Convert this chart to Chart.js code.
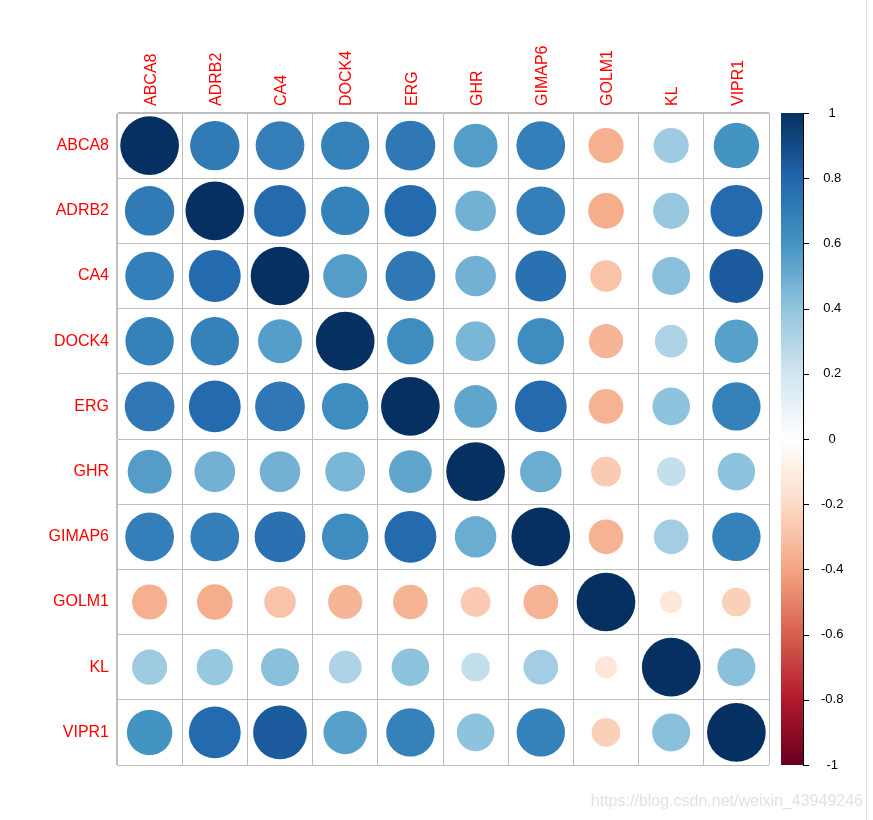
<!DOCTYPE html>
<html>
<head>
<meta charset="utf-8">
<script src="https://cdn.jsdelivr.net/npm/chart.js@4.4.0/dist/chart.umd.min.js"></script>
<style>
html,body{margin:0;padding:0;background:#fff;}
#wrap{position:relative;width:873px;height:820px;}
#borde{position:absolute;left:866px;top:0;width:1px;height:820px;background:#e4e4e4;}
</style>
</head>
<body>
<div id="wrap"><canvas id="grafCorr" width="873" height="820"></canvas><div id="borde"></div></div>
<script>
// genes (filas y columnas)
const genes = ["ABCA8","ADRB2","CA4","DOCK4","ERG","GHR","GIMAP6","GOLM1","KL","VIPR1"];

// correlaciones, una fila por gen
const corABCA8  = [ 1.00, 0.71, 0.69, 0.68, 0.72, 0.56, 0.69,-0.36, 0.36, 0.60];
const corADRB2  = [ 0.71, 1.00, 0.78, 0.68, 0.78, 0.48, 0.69,-0.37, 0.38, 0.78];
const corCA4    = [ 0.69, 0.78, 1.00, 0.56, 0.72, 0.48, 0.75,-0.29, 0.42, 0.84];
const corDOCK4  = [ 0.68, 0.68, 0.56, 1.00, 0.63, 0.46, 0.63,-0.34, 0.31, 0.55];
const corERG    = [ 0.72, 0.78, 0.72, 0.63, 1.00, 0.53, 0.78,-0.35, 0.41, 0.68];
const corGHR    = [ 0.56, 0.48, 0.48, 0.46, 0.53, 1.00, 0.50,-0.26, 0.24, 0.41];
const corGIMAP6 = [ 0.69, 0.69, 0.75, 0.63, 0.78, 0.50, 1.00,-0.35, 0.35, 0.68];
const corGOLM1  = [-0.36,-0.37,-0.29,-0.34,-0.35,-0.26,-0.35, 1.00,-0.14,-0.24];
const corKL     = [ 0.36, 0.38, 0.42, 0.31, 0.41, 0.24, 0.35,-0.14, 1.00, 0.42];
const corVIPR1  = [ 0.60, 0.78, 0.84, 0.55, 0.68, 0.41, 0.68,-0.24, 0.42, 1.00];

// paleta RdBu (de -1 a 1) y marcas de la barra de color
const paleta = ["#67001F","#B2182B","#D6604D","#F4A582","#FDDBC7","#FFFFFF","#D1E5F0","#92C5DE","#4393C3","#2166AC","#053061"];
const marcasBarra = [-1,-0.8,-0.6,-0.4,-0.2,0,0.2,0.4,0.6,0.8,1];

const matriz = [corABCA8,corADRB2,corCA4,corDOCK4,corERG,corGHR,corGIMAP6,corGOLM1,corKL,corVIPR1];
const fuente = '"Liberation Sans", Arial, sans-serif';

function hexRgb(h){
  return [parseInt(h.substr(1,2),16),parseInt(h.substr(3,2),16),parseInt(h.substr(5,2),16)];
}
function colorDe(v){
  let t = (v+1)/2*(paleta.length-1);
  let k = Math.min(Math.floor(t), paleta.length-2);
  let f = t-k;
  let a = hexRgb(paleta[k]), b = hexRgb(paleta[k+1]);
  let c = a.map((x,i)=>Math.round(x+(b[i]-x)*f));
  return 'rgb('+c[0]+','+c[1]+','+c[2]+')';
}

let puntos = [];
matriz.forEach(function(fila,i){
  fila.forEach(function(valor,j){
    puntos.push({x:genes[j], y:genes[i], v:valor});
  });
});

const pluginBarra = {
  id:'barraColor',
  afterDraw(chart){
    const ctx = chart.ctx;
    const esc = chart.scales.y2;
    const yTop = esc.getPixelForValue(1), yBot = esc.getPixelForValue(-1);
    const x0 = esc.left+12, x1 = esc.left+34;
    const grad = ctx.createLinearGradient(0,yBot,0,yTop);
    paleta.forEach((c,k)=>grad.addColorStop(k/(paleta.length-1),c));
    ctx.save();
    ctx.fillStyle = grad;
    ctx.fillRect(x0,yTop,x1-x0,yBot-yTop);
    ctx.strokeStyle = '#000';
    ctx.lineWidth = 1;
    ctx.beginPath();
    ctx.moveTo(x1+0.5,yTop); ctx.lineTo(x1+0.5,yBot);
    marcasBarra.forEach(function(v){
      let y = Math.round(esc.getPixelForValue(v))+0.5;
      ctx.moveTo(x1,y); ctx.lineTo(x1+6,y);
    });
    ctx.stroke();
    // marca de agua
    ctx.font = '16px '+fuente;
    ctx.fillStyle = '#e2e2e2';
    ctx.textAlign = 'right';
    ctx.textBaseline = 'alphabetic';
    ctx.fillText('https://blog.csdn.net/weixin_43949246', 863, 806);
    ctx.restore();
  }
};

new Chart(document.getElementById('grafCorr').getContext('2d'), {
  type:'scatter',
  data:{
    datasets:[{
      data: puntos,
      showLine: false,
      pointBorderWidth: 0,
      pointBackgroundColor: ctx => (ctx.raw ? colorDe(ctx.raw.v) : '#000'),
      pointRadius: function(ctx){
        if(!ctx.raw) return 0;
        const celda = ctx.chart.scales.x.width/genes.length;
        return 0.45*celda*Math.sqrt(Math.abs(ctx.raw.v));
      }
    }]
  },
  plugins:[pluginBarra],
  options:{
    responsive:false,
    animation:false,
    events:[],
    devicePixelRatio:1,
    layout:{autoPadding:false, padding:{left:0,right:0,top:0,bottom:55}},
    plugins:{legend:{display:false}, tooltip:{enabled:false}},
    scales:{
      x:{
        type:'category', labels:genes, position:'top', offset:true,
        grid:{offset:true, color:'#BEBEBE', lineWidth:1, drawTicks:false},
        border:{display:true, color:'#BEBEBE'},
        ticks:{color:'#FF0000', font:{family:fuente, size:16}, minRotation:90, maxRotation:90, autoSkip:false, padding:7, labelOffset:21},
        afterFit: s => { s.height = 113; }
      },
      y:{
        type:'category', labels:genes, position:'left', offset:true,
        grid:{offset:true, color:'#BEBEBE', lineWidth:1, drawTicks:false},
        border:{display:true, color:'#BEBEBE'},
        ticks:{color:'#FF0000', font:{family:fuente, size:16}, autoSkip:false, padding:8},
        afterFit: s => { s.width = 117; }
      },
      y2:{
        type:'linear', position:'right', min:-1, max:1,
        grid:{drawOnChartArea:false, drawTicks:true, tickLength:52, tickColor:'rgba(0,0,0,0)'},
        border:{display:false},
        afterBuildTicks: s => { s.ticks = marcasBarra.map(v=>({value:v})); },
        ticks:{color:'#000', font:{family:fuente, size:13}, crossAlign:'center', padding:0,
               callback: v => String(+Number(v).toFixed(1))},
        afterFit: s => { s.width = 104; }
      }
    }
  }
});
</script>
</body>
</html>
